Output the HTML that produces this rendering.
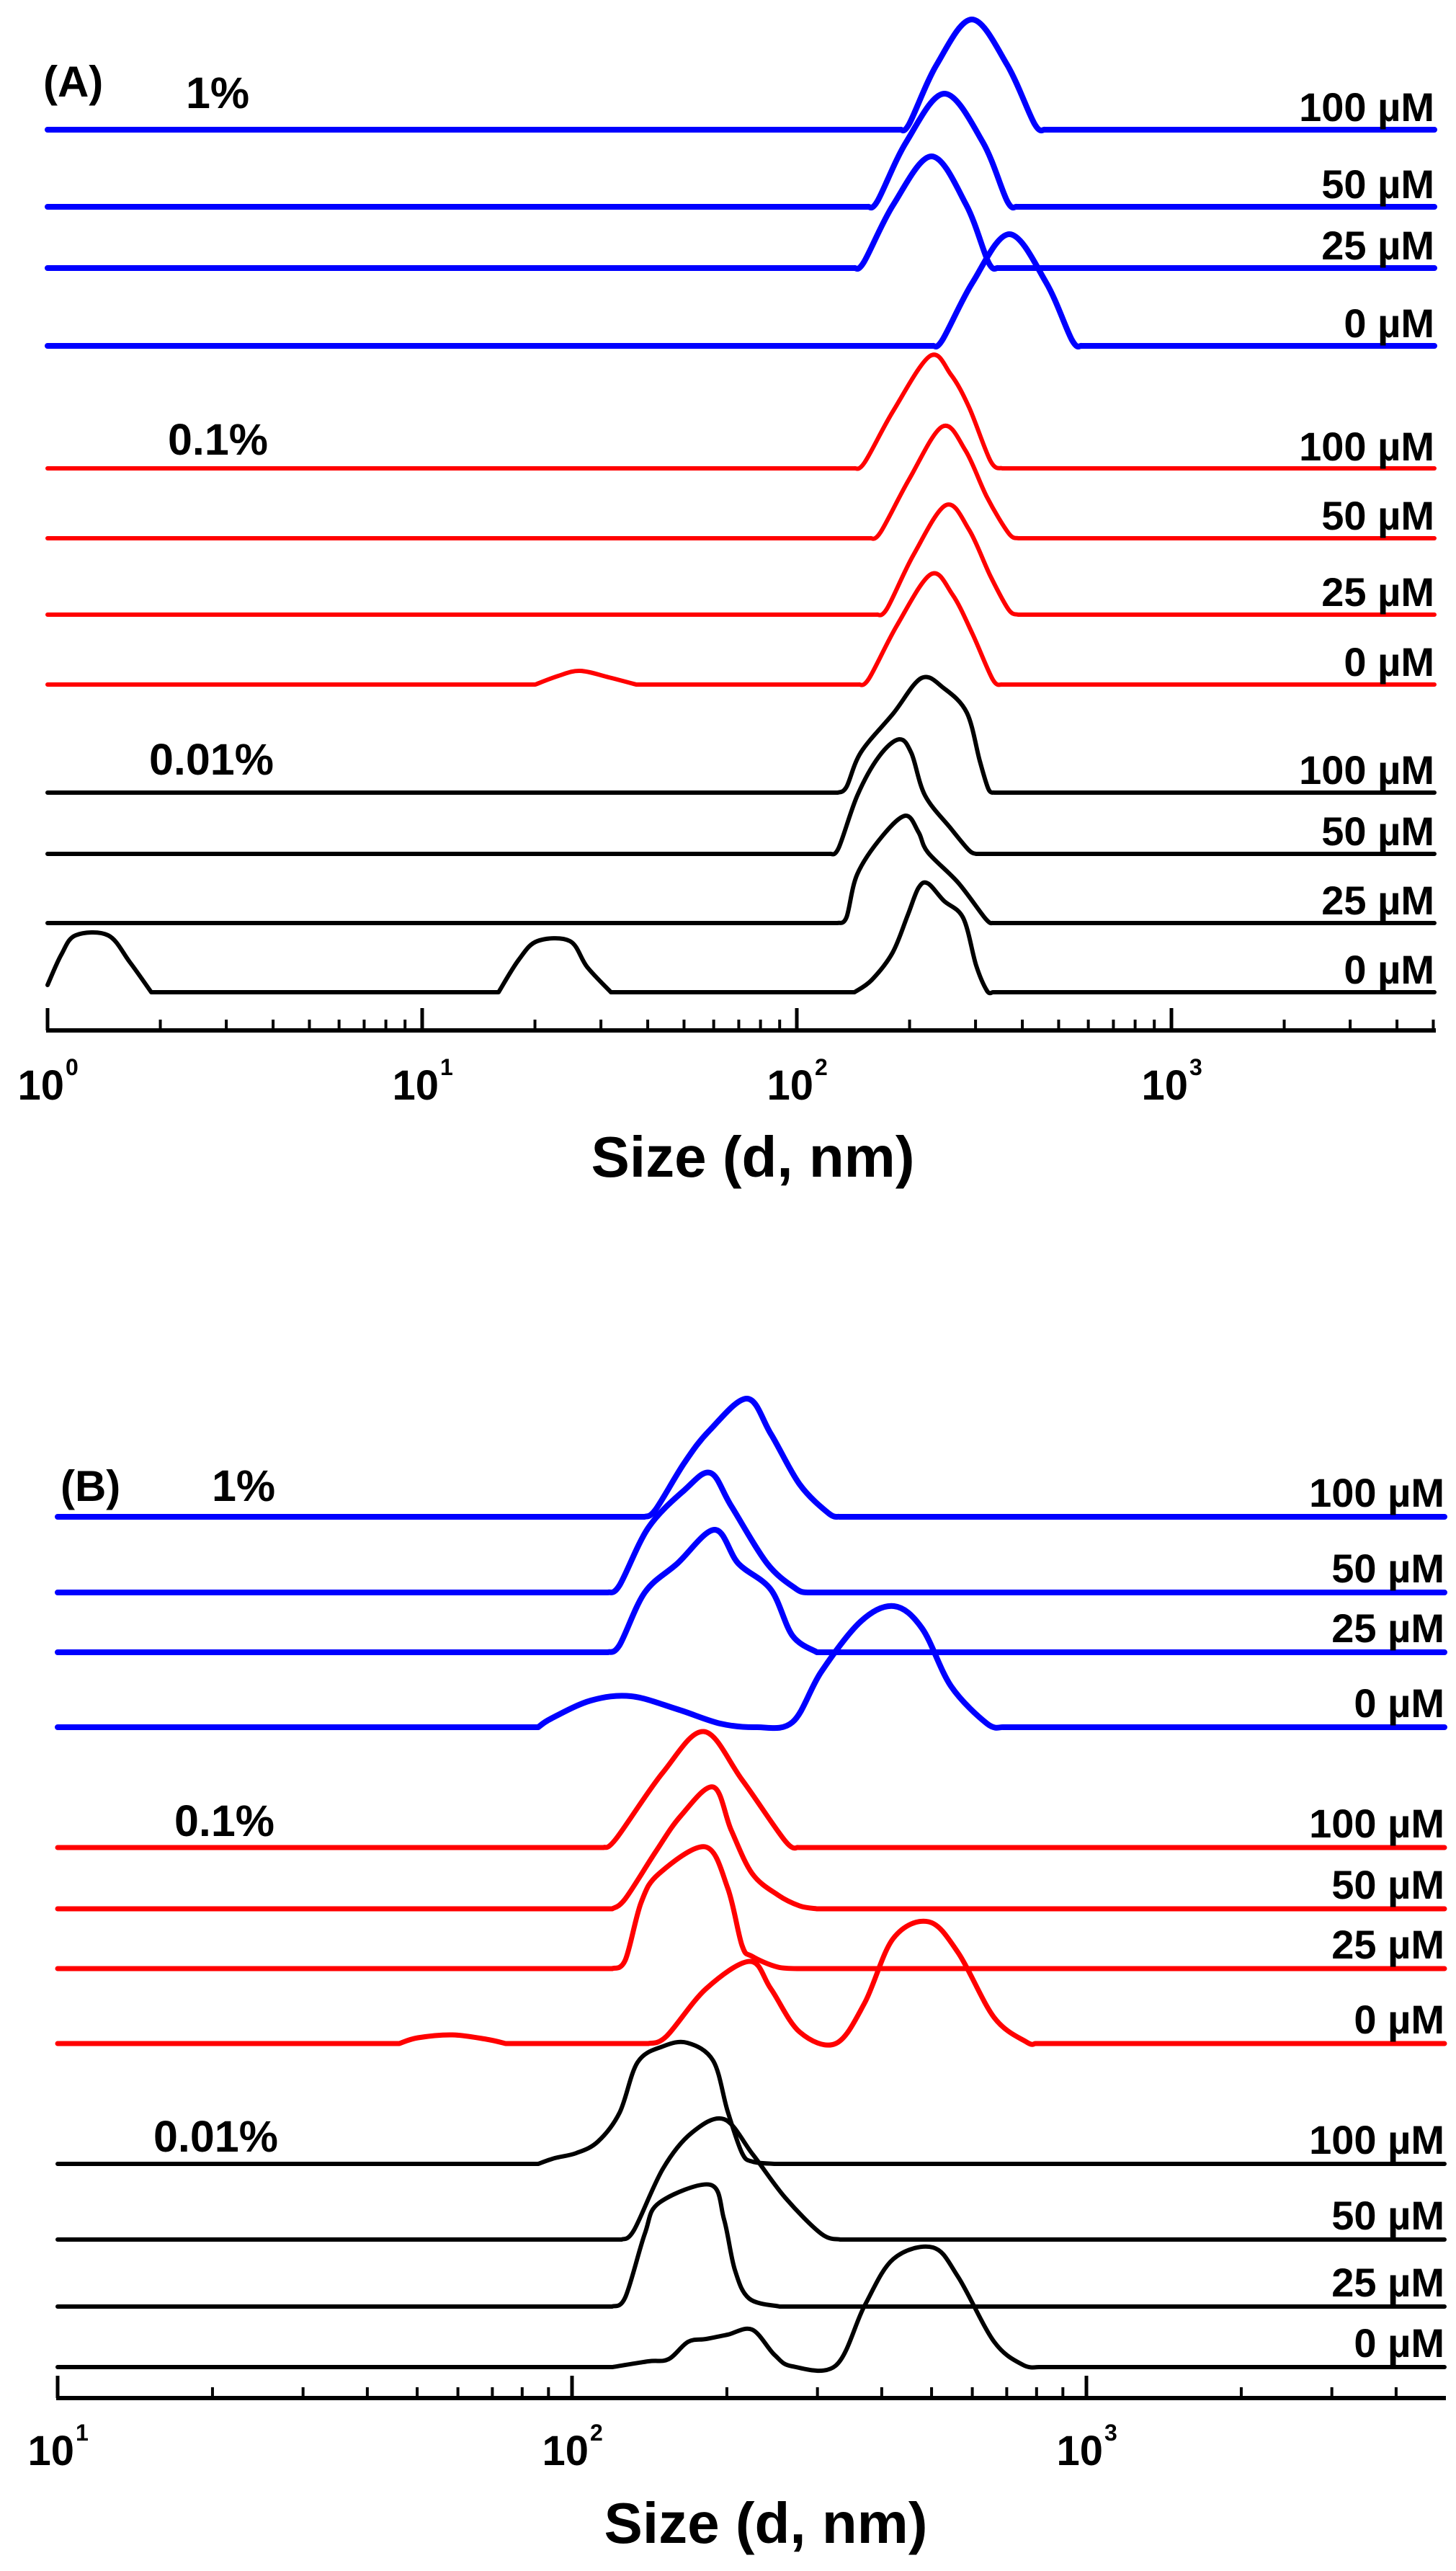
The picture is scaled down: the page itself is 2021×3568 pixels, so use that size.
<!DOCTYPE html>
<html><head><meta charset="utf-8"><style>
html,body{margin:0;padding:0;background:#fff}
svg{display:block}
text{font-family:"Liberation Sans",Arial,sans-serif;font-weight:bold;fill:#000}
</style></head><body>
<svg id="s" width="2021" height="3568" viewBox="0 0 2021 3568" xmlns="http://www.w3.org/2000/svg">
<rect width="2021" height="3568" fill="#fff"/>
<g id="curves" fill="none" stroke-linejoin="round" stroke-linecap="round"></g>
<g id="axes" stroke="#000" stroke-width="5" fill="none"></g>
<text x="60" y="134" font-size="60">(A)</text>
<text x="258" y="150" font-size="61">1%</text>
<text x="233" y="631" font-size="61">0.1%</text>
<text x="207" y="1075" font-size="61">0.01%</text>
<g font-size="56" text-anchor="end">
<text x="1991" y="168">100 µM</text>
<text x="1991" y="275">50 µM</text>
<text x="1991" y="360">25 µM</text>
<text x="1991" y="468">0 µM</text>
<text x="1991" y="639">100 µM</text>
<text x="1991" y="735">50 µM</text>
<text x="1991" y="841">25 µM</text>
<text x="1991" y="938">0 µM</text>
<text x="1991" y="1088">100 µM</text>
<text x="1991" y="1173">50 µM</text>
<text x="1991" y="1269">25 µM</text>
<text x="1991" y="1365">0 µM</text>
</g>
<text x="1045" y="1633" font-size="80" text-anchor="middle">Size (d, nm)</text>
<text x="84" y="2083" font-size="60">(B)</text>
<text x="294" y="2083" font-size="61">1%</text>
<text x="242" y="2548" font-size="61">0.1%</text>
<text x="213" y="2986" font-size="61">0.01%</text>
<g font-size="56" text-anchor="end">
<text x="2005" y="2091">100 µM</text>
<text x="2005" y="2196">50 µM</text>
<text x="2005" y="2279">25 µM</text>
<text x="2005" y="2383">0 µM</text>
<text x="2005" y="2550">100 µM</text>
<text x="2005" y="2635">50 µM</text>
<text x="2005" y="2718">25 µM</text>
<text x="2005" y="2822">0 µM</text>
<text x="2005" y="2989">100 µM</text>
<text x="2005" y="3094">50 µM</text>
<text x="2005" y="3187">25 µM</text>
<text x="2005" y="3271">0 µM</text>
</g>
<text x="1063" y="3529" font-size="80" text-anchor="middle">Size (d, nm)</text>
<g id="ticklabels"></g>
</svg>
<script>
var NS="http://www.w3.org/2000/svg";
function path(pts){
  var d="M"+pts[0][0]+","+pts[0][1];
  for(var i=0;i<pts.length-1;i++){
    var p1=pts[i],p2=pts[i+1];
    if(Math.abs(p2[0]-p1[0])>120){d+=" L"+p2[0]+","+p2[1];continue;}
    var p0=(i>0&&Math.abs(p1[0]-pts[i-1][0])<=120)?pts[i-1]:p1;
    var p3=(i+2<pts.length&&Math.abs(pts[i+2][0]-p2[0])<=120)?pts[i+2]:p2;
    var c1=[p1[0]+(p2[0]-p0[0])/6,p1[1]+(p2[1]-p0[1])/6];
    var c2=[p2[0]-(p3[0]-p1[0])/6,p2[1]-(p3[1]-p1[1])/6];
    d+=" C"+c1[0].toFixed(1)+","+c1[1].toFixed(1)+" "+c2[0].toFixed(1)+","+c2[1].toFixed(1)+" "+p2[0]+","+p2[1];
  }
  return d;
}
function wrap(pts,x0,x1){var b=pts[0][1];var e=pts[pts.length-1][1];
  if(pts[0][0]>x0)pts.unshift([x0,b]);
  if(pts[pts.length-1][0]<x1)pts.push([x1,e]);return pts;}
var g=document.getElementById("curves");
function add(pts,col,w,x0,x1){var p=document.createElementNS(NS,"path");p.setAttribute("d",path(wrap(pts,x0,x1)));p.setAttribute("stroke",col);p.setAttribute("stroke-width",w);g.appendChild(p);}
var B="#0000ff",R="#ff0000",K="#000000";
var a0=66,a1=1991;
add([[1250,180],[1262,172],[1300,90],[1349,27],[1398,90],[1436,172],[1450,180]],B,8,a0,a1);
add([[1205,287],[1218,279],[1258,197],[1311,130],[1364,197],[1398,279],[1411,287]],B,8,a0,a1);
add([[1186,372],[1199,364],[1240,284],[1293,217],[1341,284],[1372,364],[1385,372]],B,8,a0,a1);
add([[1295,480],[1308,472],[1350,392],[1401,325],[1452,392],[1488,472],[1501,480]],B,8,a0,a1);
add([[1186,650],[1200,642],[1240,570],[1291,494],[1320,520],[1345,565],[1375,640],[1391,650]],R,6,a0,a1);
add([[1208,747],[1222,739],[1262,665],[1308,592],[1340,625],[1370,690],[1400,740],[1413,747]],R,6,a0,a1);
add([[1217,853],[1231,845],[1268,770],[1313,701],[1345,735],[1375,800],[1400,846],[1413,853]],R,6,a0,a1);
add([[743,950],[775,938],[805,931],[845,940],[883,950],[1192,950],[1206,942],[1245,868],[1292,797],[1322,825],[1350,880],[1378,943],[1391,950]],R,6,a0,a1);
add([[1163,1100],[1175,1092],[1195,1044],[1240,990],[1279,941],[1310,955],[1342,989],[1360,1056],[1372,1095],[1380,1100]],K,6,a0,a1);
add([[1152,1185],[1164,1177],[1190,1104],[1220,1050],[1248,1026],[1265,1045],[1284,1104],[1320,1150],[1345,1180],[1355,1185]],K,6,a0,a1);
add([[1163,1281],[1175,1273],[1190,1213],[1225,1160],[1257,1132],[1275,1155],[1288,1183],[1330,1225],[1368,1275],[1378,1281]],K,6,a0,a1);
add([[66,1367],[85,1325],[105,1298],[150,1298],[180,1335],[210,1377],[692,1377],[720,1332],[746,1306],[791,1306],[815,1342],[848,1377],[1186,1377],[1210,1360],[1239,1322],[1260,1270],[1275,1232],[1288,1226],[1310,1250],[1337,1274],[1355,1340],[1370,1375],[1378,1377]],K,6,a0,a1);
var b0=80,b1=2005;
add([[895,2105],[910,2095],[950,2030],[985,1985],[1037,1941],[1070,1990],[1110,2060],[1150,2100],[1165,2105]],B,8,b0,b1);
add([[844,2210],[860,2200],[900,2120],[950,2068],[986,2044],[1015,2090],[1065,2170],[1105,2205],[1121,2210]],B,8,b0,b1);
add([[844,2293],[860,2283],[895,2210],[940,2170],[992,2123],[1025,2170],[1070,2206],[1100,2270],[1134,2293]],B,8,b0,b1);
add([[747,2397],[765,2385],[820,2360],[876,2354],[940,2372],[1000,2392],[1050,2397],[1100,2390],[1140,2320],[1195,2250],[1241,2229],[1280,2260],[1320,2340],[1370,2392],[1392,2397]],B,8,b0,b1);
add([[838,2564],[855,2552],[920,2460],[977,2403],[1030,2470],[1090,2555],[1108,2564]],R,7,b0,b1);
add([[850,2649],[868,2635],[910,2570],[945,2520],[990,2480],[1015,2540],[1044,2600],[1080,2630],[1110,2645],[1134,2649]],R,7,b0,b1);
add([[850,2732],[868,2720],[890,2640],[915,2600],[979,2563],[1010,2620],[1030,2700],[1044,2715],[1080,2730],[1115,2732]],R,7,b0,b1);
add([[554,2836],[580,2828],[628,2824],[675,2830],[702,2836],[900,2836],[925,2826],[980,2760],[1041,2722],[1070,2760],[1110,2820],[1160,2836],[1200,2780],[1240,2690],[1289,2667],[1330,2710],[1380,2800],[1425,2834],[1437,2836]],R,7,b0,b1);
add([[747,3003],[770,2995],[800,2988],[830,2972],[860,2932],[885,2862],[920,2840],[954,2835],[990,2860],[1010,2930],[1030,2988],[1045,3000],[1075,3003]],K,6,b0,b1);
add([[863,3108],[880,3095],[920,3010],[960,2960],[1005,2941],[1045,2990],[1090,3050],[1140,3100],[1166,3108]],K,6,b0,b1);
add([[850,3201],[868,3188],[895,3100],[915,3057],[986,3032],[1005,3080],[1020,3150],[1040,3190],[1082,3201]],K,6,b0,b1);
add([[850,3285],[900,3277],[928,3274],[955,3250],[980,3246],[1010,3240],[1044,3233],[1075,3268],[1100,3284],[1160,3283],[1200,3200],[1240,3135],[1295,3119],[1330,3160],[1380,3250],[1420,3282],[1443,3285]],K,6,b0,b1);
var ax=document.getElementById("axes"),tl=document.getElementById("ticklabels");
function line(x1,y1,x2,y2,w){var l=document.createElementNS(NS,"line");l.setAttribute("x1",x1);l.setAttribute("y1",y1);l.setAttribute("x2",x2);l.setAttribute("y2",y2);if(w)l.setAttribute("stroke-width",w);ax.appendChild(l);}
function txt(x,y,s,fs,anchor){var t=document.createElementNS(NS,"text");t.setAttribute("x",x);t.setAttribute("y",y);t.setAttribute("font-size",fs);if(anchor)t.setAttribute("text-anchor",anchor);t.textContent=s;tl.appendChild(t);}
function axis(x0,xEnd,y,dec,ndec,lblY,exp0){
  line(x0-2,y,xEnd+2,y,6);
  for(var k=0;k<=ndec;k++){
    for(var m=1;m<=9;m++){
      var x=x0+dec*(k+Math.log10(m));
      if(x>xEnd+1)break;
      if(m==1){line(x,y,x,y-31,5);
        txt(x+23,lblY,"10",58,"end");txt(x+25,lblY-34,String(exp0+k),32);}
      else line(x,y,x,y-15,4);
    }
  }
}
axis(66,1991,1430,520,3,1526,0);
axis(80,2005,3328,714,2,3421,1);
</script>
</body></html>
